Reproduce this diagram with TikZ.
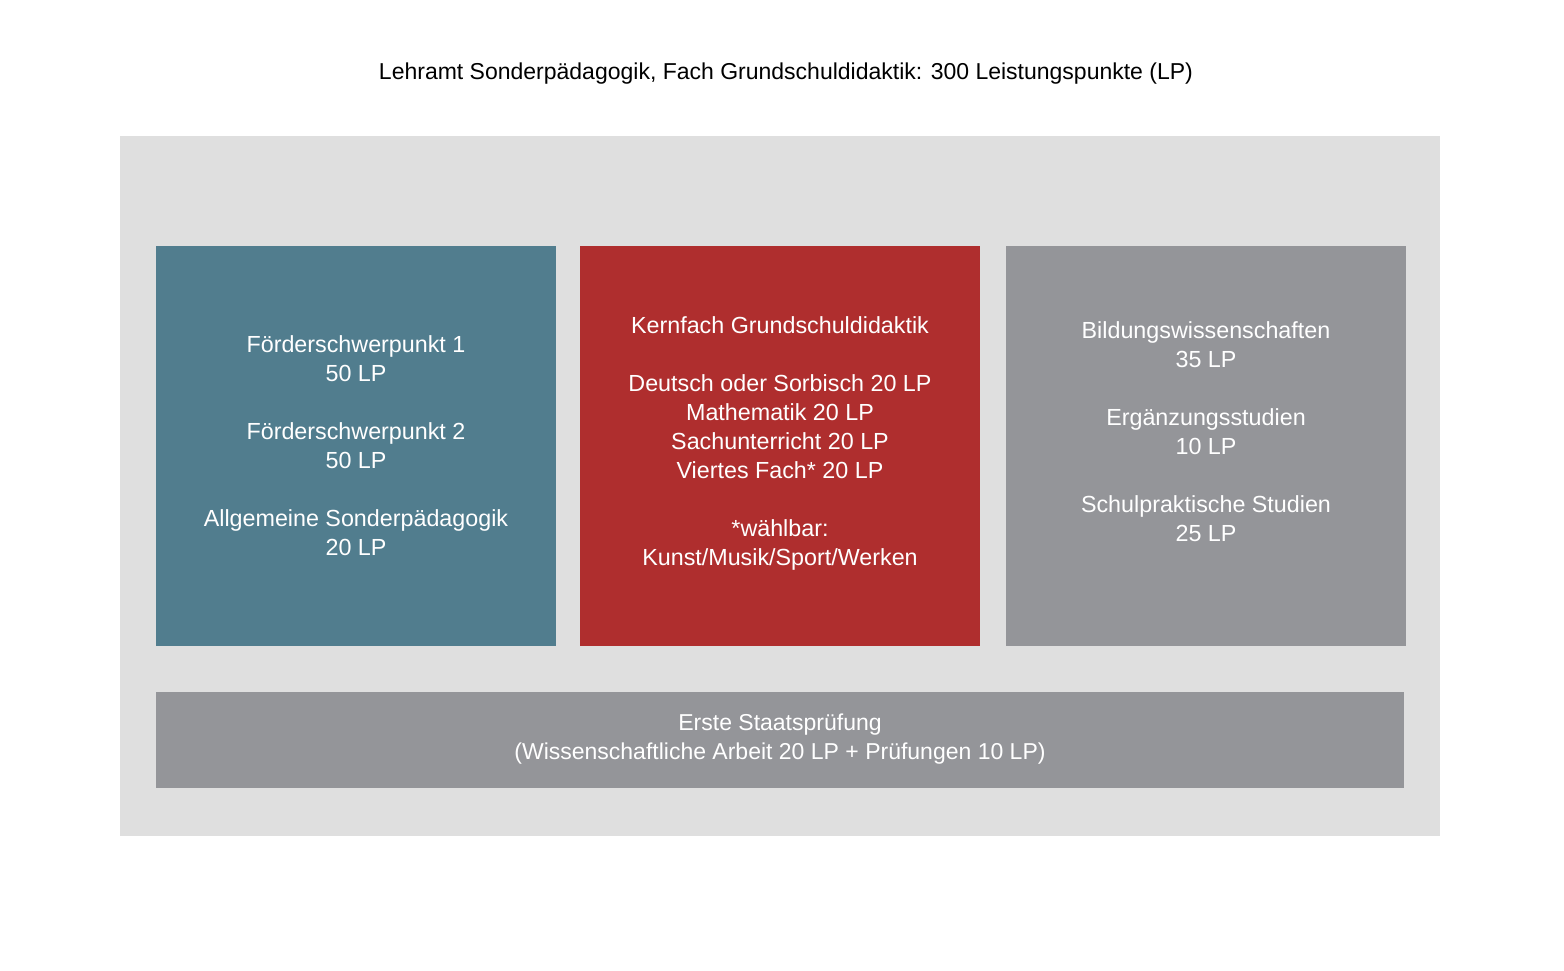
\documentclass[tikz,border=0pt]{standalone}
\usepackage{fontspec}
\setmainfont{Liberation Sans}
\definecolor{bgc}{HTML}{DFDFDF}
\definecolor{tealc}{HTML}{517D8E}
\definecolor{redc}{HTML}{AF2E2E}
\definecolor{greyc}{HTML}{949599}
\tikzset{
  box/.style={fill=#1, draw=none, inner sep=0pt, outer sep=0pt},
  txt/.style={text=white, align=center, inner sep=0pt,
    font=\fontsize{23.3}{29}\selectfont},
}
\begin{document}
\begin{tikzpicture}[x=1pt,y=-1pt]
\useasboundingbox (0,0) rectangle (1564,970);
\fill[white] (0,0) rectangle (1564,970);
\node[anchor=center, inner sep=0pt, font=\fontsize{23}{29}\selectfont] (title) at (786,74) {Lehramt Sonderpädagogik, Fach Grundschuldidaktik: 300 Leistungspunkte (LP)};
\path[box=bgc] (120,136) rectangle (1440,836);
\node[box=tealc, minimum width=400, minimum height=400] (teal) at (356,446) {};
\node[box=redc, minimum width=400, minimum height=400] (red) at (780,446) {};
\node[box=greyc, minimum width=400, minimum height=400] (grey) at (1206,446) {};
\node[box=greyc, minimum width=1248, minimum height=96] (exam) at (780,740) {};
\node[txt] (tealtxt) at (356,446) {Förderschwerpunkt 1\\50 LP\\[29pt]Förderschwerpunkt 2\\50 LP\\[29pt]Allgemeine Sonderpädagogik\\20 LP};
\node[txt] (redtxt) at (780,443.5) {Kernfach Grundschuldidaktik\\[29pt]Deutsch oder Sorbisch 20 LP\\Mathematik 20 LP\\Sachunterricht 20 LP\\Viertes Fach* 20 LP\\[29pt]*wählbar:\\Kunst/Musik/Sport/Werken};
\node[txt] (greytxt) at (1206,432) {Bildungswissenschaften\\35 LP\\[29pt]Ergänzungsstudien\\10 LP\\[29pt]Schulpraktische Studien\\25 LP};
\node[txt, font=\fontsize{23}{29}\selectfont] (examtxt) at (780,739) {Erste Staatsprüfung\\(Wissenschaftliche Arbeit 20 LP + Prüfungen 10 LP)};
\end{tikzpicture}
\end{document}
